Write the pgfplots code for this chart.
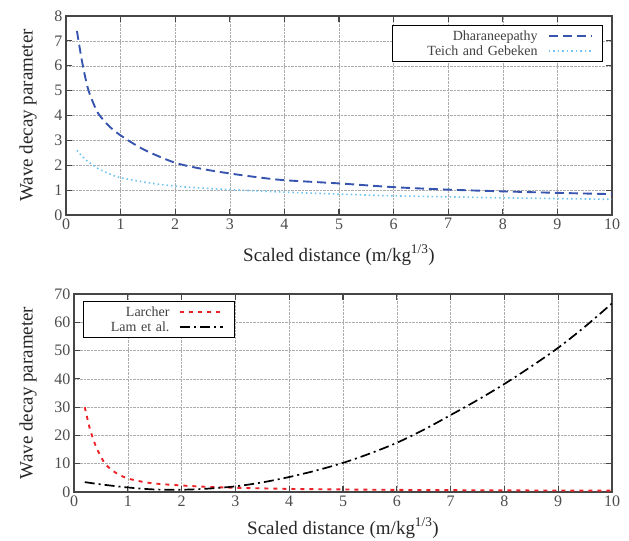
\documentclass[border=0pt]{standalone}
\usepackage{pgfplots}
\pgfplotsset{compat=1.18}
\usepackage{fontspec}
\setmainfont{Liberation Serif}
\definecolor{dblue}{RGB}{55,85,175}
\definecolor{lblue}{RGB}{110,195,240}
\definecolor{lred}{RGB}{235,35,40}
\definecolor{axgray}{RGB}{70,70,70}
\pgfplotsset{
  myax/.style={
    scale only axis,
    xmin=0, xmax=10,
    xtick={0,1,...,10},
    grid=major,
    major grid style={densely dotted, gray!65, line width=0.5pt},
    axis line style={axgray, line width=1.3pt},
    tick style={axgray, line width=1.1pt},
    major tick length=6bp,
    tick align=inside,
    tick pos=both,
    /pgf/number format/assume math mode=true,
    ticklabel style={font=\rmfamily\fontsize{16bp}{18bp}\selectfont, color=black!70},
    label style={font=\rmfamily\fontsize{19bp}{22bp}\selectfont, color=black!85},
    xlabel={Scaled distance (m/kg\textsuperscript{1/3})},
    ylabel={Wave decay parameter},
    ylabel style={yshift=11bp},
    legend plot pos=right,
    legend cell align=right,
    legend image code/.code={\draw[#1] (0bp,0bp) -- (43bp,0bp); \path (50bp,0bp);},
    legend style={font=\rmfamily\fontsize{14bp}{16bp}\selectfont, draw=black, line width=1pt,
      inner xsep=3bp, inner ysep=3bp, row sep=0bp, text=black!75,
      /tikz/every odd column/.style={column sep=8bp}},
  }
}
\begin{document}
\begin{tikzpicture}
\path[use as bounding box] (0,0) rectangle (629bp,-541bp);
\begin{axis}[myax,
  at={(66bp,-215bp)}, anchor=south west,
  width=546bp, height=199bp,
  ymin=0, ymax=8, ytick={0,1,...,8},
  xlabel style={yshift=-9bp},
  legend style={at={(1,1)}, anchor=north east, xshift=-9bp, yshift=-9bp,
    nodes={text width=140bp, align=right}},
]
\addplot[dblue, line width=1.9pt, dash pattern=on 9bp off 5bp, smooth, tension=0.5] coordinates {
(0.2,7.4)(0.3,6.1)(0.4,5.1)(0.5,4.5)(0.6,4.05)(0.8,3.55)(1,3.2)(1.25,2.85)(1.5,2.55)(2,2.1)(2.5,1.85)(3,1.67)(3.5,1.52)(4,1.4)(5,1.27)(6,1.12)(7,1.02)(8,0.95)(9,0.89)(10,0.84)};
\addlegendentry{Dharaneepathy}
\addplot[lblue, line width=1.6pt, dash pattern=on 1.5bp off 3bp, smooth, tension=0.5] coordinates {
(0.2,2.6)(0.3,2.35)(0.4,2.15)(0.5,2.0)(0.6,1.85)(0.8,1.65)(1,1.5)(1.5,1.3)(2,1.16)(2.5,1.08)(3,1.02)(4,0.92)(5,0.84)(6,0.77)(7,0.73)(8,0.69)(9,0.66)(10,0.63)};
\addlegendentry{Teich and Gebeken}
\end{axis}
\begin{axis}[myax,
  at={(74bp,-492bp)}, anchor=south west,
  width=538bp, height=198bp,
  ymin=0, ymax=70, ytick={0,10,...,70},
  xlabel style={yshift=-5bp},
  legend style={at={(0,1)}, anchor=north west, xshift=9bp, yshift=-7bp,
    nodes={text width=81bp, align=right}},
]
\addplot[lred, line width=1.9pt, dash pattern=on 4bp off 5bp, smooth, tension=0.5] coordinates {
(0.2,30)(0.3,22)(0.4,16.5)(0.5,12.5)(0.6,9.5)(0.8,6.5)(1,4.8)(1.25,3.7)(1.5,3.0)(2,2.3)(2.5,1.8)(3,1.5)(4,1.1)(5,0.9)(6,0.75)(7,0.65)(8,0.58)(9,0.52)(10,0.48)};
\addlegendentry{Larcher}
\addplot[black, line width=1.7pt, dash pattern=on 10bp off 4bp on 2bp off 4bp, smooth, tension=0.5] coordinates {
(0.2,3.5)(0.5,2.7)(1,1.6)(1.5,0.9)(2,0.8)(2.5,1.2)(3,2.0)(3.5,3.4)(4,5.3)(4.5,7.6)(5,10.3)(5.5,13.6)(6,17.4)(6.5,22)(7,27.2)(7.5,32.5)(8,38.2)(8.5,44.4)(9,51)(9.5,58.5)(10,66.7)};
\addlegendentry{Lam et al.}
\end{axis}
\end{tikzpicture}
\end{document}
